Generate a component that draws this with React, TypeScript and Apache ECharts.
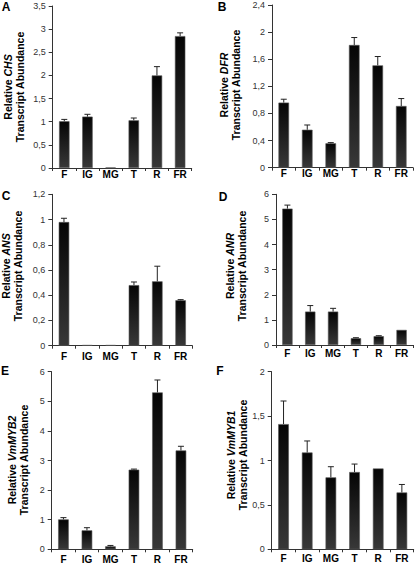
import React, { useEffect, useRef } from "react";
import * as echarts from "echarts";

const FONT = '"Liberation Sans", Arial, Helvetica, sans-serif';

// ---- data ----
const categories = ["F", "IG", "MG", "T", "R", "FR"];

const chsValues = [1.01, 1.11, 0.01, 1.03, 2.0, 2.85];
const chsErrors = [0.04, 0.05, 0.0, 0.05, 0.19, 0.07];

const dfrValues = [0.96, 0.56, 0.36, 1.81, 1.51, 0.91];
const dfrErrors = [0.05, 0.07, 0.01, 0.11, 0.13, 0.11];

const ansValues = [0.98, 0.005, 0.005, 0.48, 0.51, 0.36];
const ansErrors = [0.03, 0.0, 0.0, 0.025, 0.12, 0.005];

const anrValues = [5.43, 1.33, 1.33, 0.27, 0.35, 0.6];
const anrErrors = [0.14, 0.24, 0.13, 0.02, 0.02, 0.0];

const myb2Values = [1.01, 0.64, 0.1, 2.69, 5.3, 3.34];
const myb2Errors = [0.06, 0.09, 0.03, 0.02, 0.42, 0.14];

const myb1Values = [1.41, 1.09, 0.81, 0.87, 0.91, 0.64];
const myb1Errors = [0.26, 0.13, 0.12, 0.09, 0.0, 0.09];

const panelLetters = ["A", "B", "C", "D", "E", "F"];
const geneNames = ["CHS", "DFR", "ANS", "ANR", "VmMYB2", "VmMYB1"];
const yMaxes = [3.5, 2.4, 1.2, 6, 6, 2];
const yIntervals = [0.5, 0.4, 0.2, 1, 1, 0.5];
const allValues = [chsValues, dfrValues, ansValues, anrValues, myb2Values, myb1Values];
const allErrors = [chsErrors, dfrErrors, ansErrors, anrErrors, myb2Errors, myb1Errors];

// ---- layout (pixels) ----
const layout = [
  { left: 52.7, top: 6, width: 139, height: 162, labelMargin: 1, title: [13.5, 87], letter: [6, 7] },
  { left: 272, top: 5, width: 141, height: 162.7, labelMargin: 1, title: [230, 85], letter: [222, 7] },
  { left: 52.3, top: 194.3, width: 140, height: 151.4, labelMargin: 6, title: [12, 266], letter: [6, 196] },
  { left: 276, top: 194.3, width: 137, height: 150.7, labelMargin: 3, title: [236, 266], letter: [223, 197] },
  { left: 51.7, top: 371.7, width: 141, height: 177.6, labelMargin: 5, title: [18, 460], letter: [5, 371] },
  { left: 271.7, top: 371.7, width: 142, height: 177.6, labelMargin: 4, title: [237, 455], letter: [220, 371] },
];

function buildOption() {
  const grid: any[] = [];
  const xAxis: any[] = [];
  const yAxis: any[] = [];
  const series: any[] = [];
  const graphic: any[] = [];

  const barFill = new echarts.graphic.LinearGradient(0, 0, 0, 1, [
    { offset: 0, color: "#050505" },
    { offset: 1, color: "#383838" },
  ]);

  layout.forEach((l, i) => {
    grid.push({
      left: l.left,
      top: l.top,
      width: l.width,
      height: l.height,
      outerBoundsMode: "none",
    });
    xAxis.push({
      type: "category",
      gridIndex: i,
      data: categories,
      axisLine: { show: true, lineStyle: { color: "#333", width: 1 } },
      axisTick: { show: true, length: 3, lineStyle: { color: "#333" } },
      axisLabel: {
        margin: l.labelMargin,
        fontFamily: FONT,
        fontSize: 10,
        fontWeight: "bold",
        color: "#000",
        interval: 0,
      },
      splitLine: { show: false },
    });
    yAxis.push({
      type: "value",
      gridIndex: i,
      min: 0,
      max: yMaxes[i],
      interval: yIntervals[i],
      axisLine: { show: true, lineStyle: { color: "#333", width: 1 } },
      axisTick: { show: true, length: 4, lineStyle: { color: "#333" } },
      axisLabel: {
        margin: 7,
        fontFamily: FONT,
        fontSize: 9,
        color: "#333",
        formatter: (v: number) => String(Math.round(v * 100) / 100).replace(".", ","),
      },
      splitLine: { show: false },
    });
    series.push({
      type: "bar",
      xAxisIndex: i,
      yAxisIndex: i,
      data: allValues[i],
      barWidth: "45%",
      itemStyle: { color: barFill, borderColor: "#555", borderWidth: 0.6 },
      silent: true,
      z: 2,
    });
    series.push({
      type: "custom",
      xAxisIndex: i,
      yAxisIndex: i,
      data: categories.map((c, k) => [k, allValues[i][k], allErrors[i][k]]),
      encode: { x: 0, y: 1 },
      z: 3,
      silent: true,
      renderItem: (params: any, api: any) => {
        const x = api.value(0);
        const v = api.value(1);
        const e = api.value(2);
        if (!(e > 0)) return null;
        const p0 = api.coord([x, v]);
        const p1 = api.coord([x, v + e]);
        const st = { stroke: "#222", lineWidth: 1, fill: null };
        return {
          type: "group",
          children: [
            { type: "line", shape: { x1: p0[0], y1: p0[1], x2: p1[0], y2: p1[1] }, style: st },
            { type: "line", shape: { x1: p1[0] - 3, y1: p1[1], x2: p1[0] + 3, y2: p1[1] }, style: st },
          ],
        };
      },
    });
    graphic.push({
      type: "text",
      x: l.title[0],
      y: l.title[1],
      rotation: Math.PI / 2,
      style: {
        text: `{b|Relative }{i|${geneNames[i]}}\n{b|Transcript Abundance}`,
        align: "center",
        verticalAlign: "middle",
        rich: {
          b: { fontFamily: FONT, fontSize: 10.5, fontWeight: "bold", lineHeight: 12, fill: "#000" },
          i: { fontFamily: FONT, fontSize: 10.5, fontWeight: "bold", fontStyle: "italic", lineHeight: 12, fill: "#000" },
        },
      },
    });
    graphic.push({
      type: "text",
      x: l.letter[0],
      y: l.letter[1],
      style: {
        text: panelLetters[i],
        align: "center",
        verticalAlign: "middle",
        fontFamily: FONT,
        fontSize: 12,
        fontWeight: "bold",
        fill: "#000",
      },
    });
  });

  return {
    animation: false,
    backgroundColor: "#fff",
    grid,
    xAxis,
    yAxis,
    series,
    graphic,
  };
}

export default function App() {
  const ref = useRef<HTMLDivElement>(null);
  useEffect(() => {
    if (!ref.current) return;
    const chart = echarts.init(ref.current, undefined, { renderer: "svg" });
    chart.setOption(buildOption() as any);
    return () => chart.dispose();
  }, []);
  return (
    <div
      ref={ref}
      style={{ position: "absolute", left: 0, top: 0, width: 415, height: 565, background: "#fff" }}
    />
  );
}
